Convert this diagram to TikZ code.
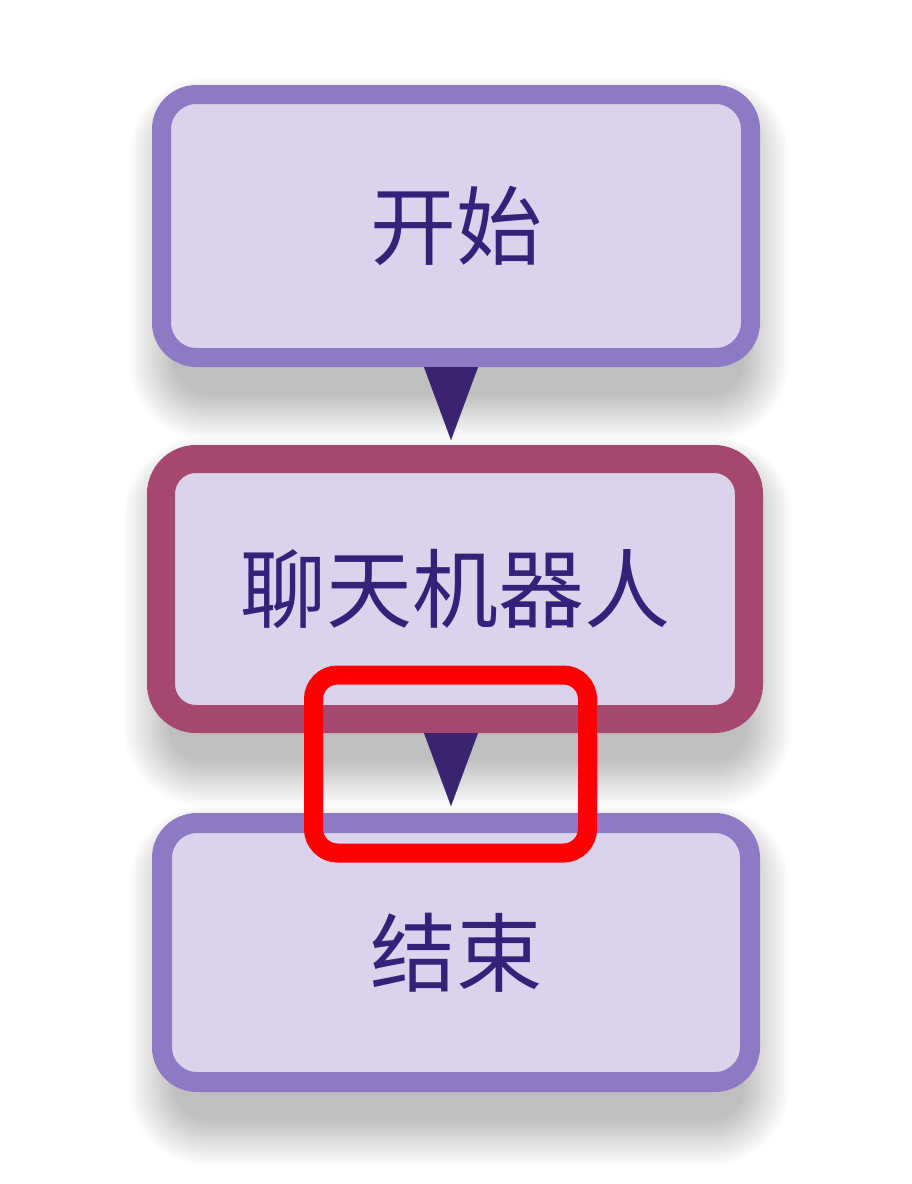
\documentclass[tikz,border=0pt]{standalone}
\usepackage{fontspec}
\newfontfamily\cjk{Noto Sans CJK SC}
\usetikzlibrary{arrows.meta,backgrounds}
\definecolor{boxfill}{RGB}{219,210,235}
\definecolor{lavborder}{RGB}{141,122,196}
\definecolor{plumborder}{RGB}{166,71,111}
\definecolor{inktext}{RGB}{52,33,122}
\definecolor{arrowink}{RGB}{58,36,112}
\definecolor{markred}{RGB}{255,0,0}
\tikzset{
  flowbox/.style={draw=lavborder, fill=boxfill, rounded corners=35pt, text=inktext,
    font=\cjk\fontsize{86}{100}\selectfont, inner sep=0pt, minimum width=589pt},
  flowarrow/.style={draw=arrowink, fill=arrowink, line width=0.1pt,
    -{Triangle[width=54pt,length=73pt]}},
  markbox/.style={draw=markred, line width=19pt, rounded corners=24pt, inner sep=0pt}
}
\begin{document}
\begin{tikzpicture}[x=1pt,y=-1pt]
\useasboundingbox (0,0) rectangle (911,1184);
\node[flowbox, line width=19pt, minimum height=263pt] (start) at (456,226) {开始};
\node[flowbox, draw=plumborder, line width=28pt, minimum width=588pt, minimum height=260pt] (bot) at (455,589) {聊天机器人};
\node[flowbox, line width=20pt, minimum width=588pt, minimum height=259pt] (stop) at (456,952.5) {结束};
\draw[flowarrow, shorten >=5pt] ([xshift=-5pt]start.south) -- ([xshift=-4pt]bot.north);
\draw[flowarrow, shorten >=7pt] ([xshift=-4pt]bot.south) -- ([xshift=-5pt]stop.north);
\node[markbox, minimum width=274pt, minimum height=178pt] (mark) at (450.5,764) {};
\begin{pgfonlayer}{background}
\fill[white] (0,0) rectangle (911,1184);
\foreach \b in {start,bot,stop}{
  \foreach \i in {1,...,16}{
    \pgfmathsetmacro\xa{22+3-3*\i}
    \pgfmathsetmacro\xb{-22+3+3*\i}
    \pgfmathsetmacro\ya{-25-3*\i}
    \pgfmathsetmacro\yb{-25+2*\i}
    \pgfmathsetmacro\rad{30+3*\i}
    \fill[black, opacity=0.017, rounded corners=\rad pt]
      ([xshift=\xa pt, yshift=\ya pt]\b.south west) rectangle ([xshift=\xb pt, yshift=\yb pt]\b.north east);
  }
}
\end{pgfonlayer}
\end{tikzpicture}
\end{document}
